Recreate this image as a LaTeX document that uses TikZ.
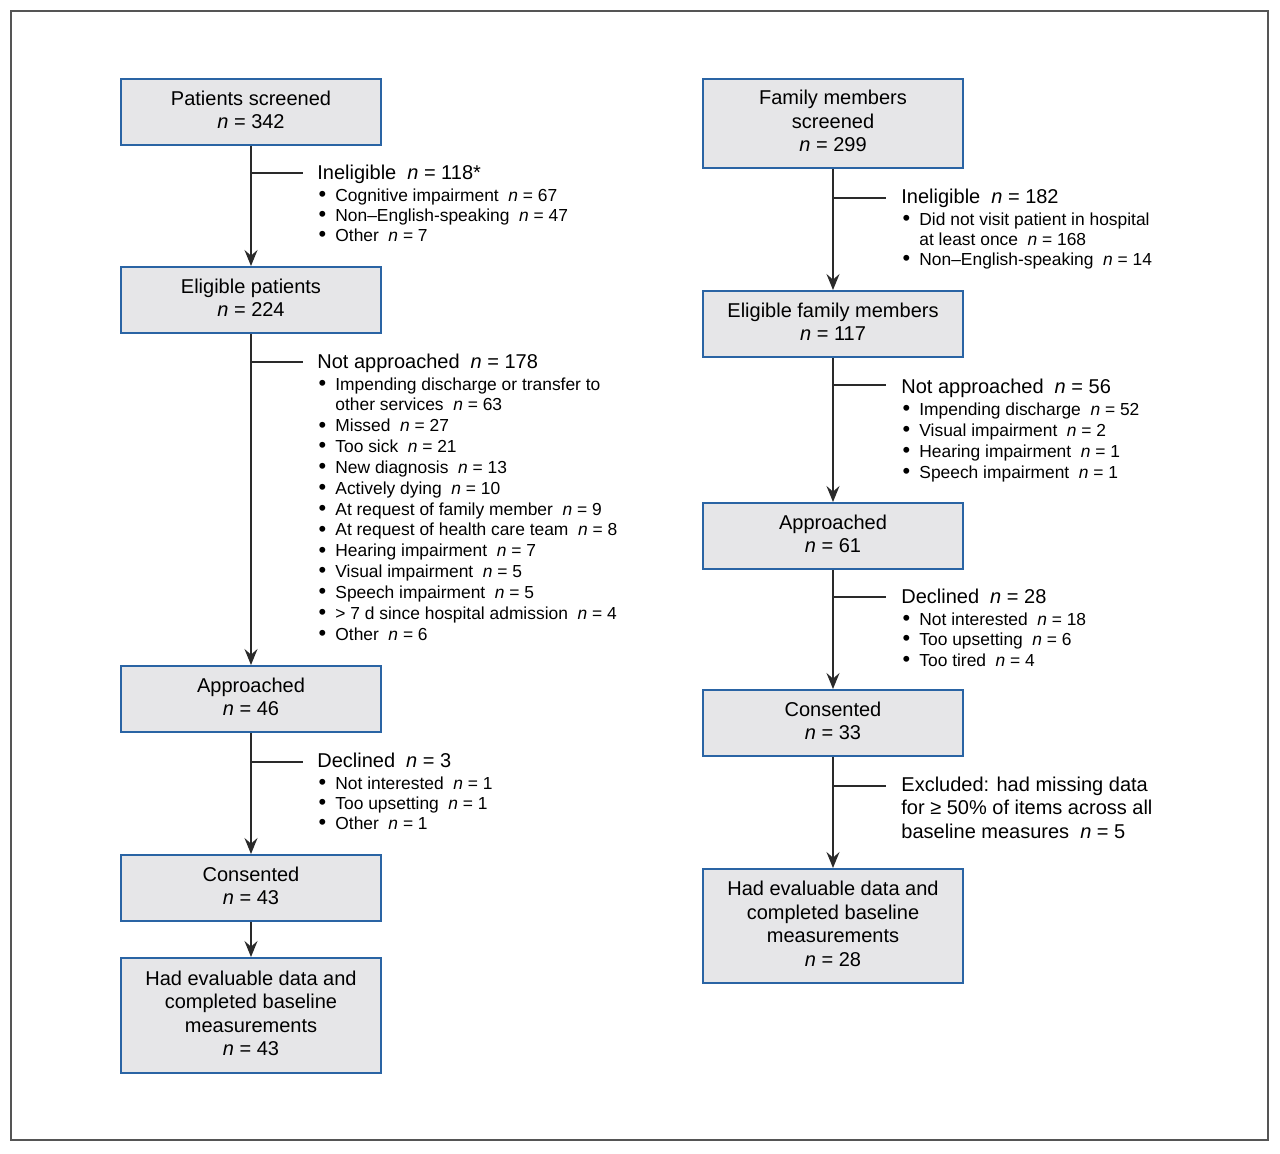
\documentclass[tikz,border=0pt]{standalone}
\usepackage{fontspec}
\setmainfont{Liberation Sans}
\usetikzlibrary{arrows.meta}
\definecolor{boxblue}{HTML}{2A64A4}
\definecolor{boxgray}{HTML}{E6E6E8}
\definecolor{linegray}{HTML}{2A2A2A}
\definecolor{framegray}{HTML}{555555}
\newcommand{\nv}[1]{\hspace{0.55em}\textit{n} = #1}
\newcommand{\bl}{\makebox[9pt][l]{\hspace{0.6pt}\raisebox{-0.2pt}{\scalebox{1.25}{\textbullet}}}}
\begin{document}
\begin{tikzpicture}[x=0.5pt,y=-0.5pt,
  flowbox/.style={draw=boxblue,line width=1pt,fill=boxgray,minimum width=130pt,minimum height=33pt,inner sep=0pt,align=center,text depth=2.5pt,font=\fontsize{10}{11.75}\selectfont},
  flowarrow/.style={draw=linegray,line width=0.75pt,-{Stealth[length=8pt,width=6.5pt,inset=2.8pt]}},
  branch/.style={draw=linegray,line width=0.6pt},
  hdr/.style={anchor=base west,inner sep=0pt,font=\fontsize{10}{11.75}\selectfont,align=left},
  lst/.style={anchor=base west,inner sep=0pt}]
\useasboundingbox (0,0) rectangle (1280,1153);
\draw[framegray,line width=0.8pt] (11,11) rectangle (1268,1140);

% left column boxes
\node[flowbox] (p1) at (251,112) {Patients screened\\\textit{n} = 342};
\node[flowbox] (p2) at (251,300) {Eligible patients\\\textit{n} = 224};
\node[flowbox] (p3) at (251,699) {Approached\\\textit{n} = 46};
\node[flowbox] (p4) at (251,888) {Consented\\\textit{n} = 43};
\node[flowbox,minimum height=57.5pt] (p5) at (251,1015.5) {Had evaluable data and\\completed baseline\\measurements\\\textit{n} = 43};

% right column boxes
\node[flowbox,minimum height=44.5pt] (f1) at (833,123.5) {Family members\\screened\\\textit{n} = 299};
\node[flowbox] (f2) at (833,324) {Eligible family members\\\textit{n} = 117};
\node[flowbox] (f3) at (833,536) {Approached\\\textit{n} = 61};
\node[flowbox] (f4) at (833,723) {Consented\\\textit{n} = 33};
\node[flowbox,minimum height=57pt] (f5) at (833,926) {Had evaluable data and\\completed baseline\\measurements\\\textit{n} = 28};

% arrows
\draw[flowarrow] (p1) -- (p2);
\draw[flowarrow] (p2) -- (p3);
\draw[flowarrow] (p3) -- (p4);
\draw[flowarrow] (p4) -- (p5);
\draw[flowarrow] (f1) -- (f2);
\draw[flowarrow] (f2) -- (f3);
\draw[flowarrow] (f3) -- (f4);
\draw[flowarrow] (f4) -- (f5);

% branch coordinates
\coordinate (lb1) at (251,173); \coordinate (le1) at (303,173);
\coordinate (lb2) at (251,362); \coordinate (le2) at (303,362);
\coordinate (lb3) at (251,762); \coordinate (le3) at (303,762);
\coordinate (rb1) at (833,198); \coordinate (re1) at (886,198);
\coordinate (rb2) at (833,385); \coordinate (re2) at (886,385);
\coordinate (rb3) at (833,597); \coordinate (re3) at (886,597);
\coordinate (rb4) at (833,786); \coordinate (re4) at (886,786);
\draw[branch] (lb1) -- (le1);
\draw[branch] (lb2) -- (le2);
\draw[branch] (lb3) -- (le3);
\draw[branch] (rb1) -- (re1);
\draw[branch] (rb2) -- (re2);
\draw[branch] (rb3) -- (re3);
\draw[branch] (rb4) -- (re4);

% left side texts
\node[hdr] (h1) at (317,179) {Ineligible\nv{118*}};
\node[lst,font=\fontsize{8.7}{10}\selectfont] (l1) at (317,201) {\begin{tabular}[t]{@{}l@{}l@{}}
\bl & Cognitive impairment\nv{67}\\
\bl & Non--English-speaking\nv{47}\\
\bl & Other\nv{7}
\end{tabular}};

\node[hdr] (h2) at (317,368) {Not approached\nv{178}};
\node[lst,font=\fontsize{8.7}{10.42}\selectfont] (l2) at (317,390) {\begin{tabular}[t]{@{}l@{}l@{}}
\bl & Impending discharge or transfer to\\
 & other services\nv{63}\\
\bl & Missed\nv{27}\\
\bl & Too sick\nv{21}\\
\bl & New diagnosis\nv{13}\\
\bl & Actively dying\nv{10}\\
\bl & At request of family member\nv{9}\\
\bl & At request of health care team\nv{8}\\
\bl & Hearing impairment\nv{7}\\
\bl & Visual impairment\nv{5}\\
\bl & Speech impairment\nv{5}\\
\bl & > 7 d since hospital admission\nv{4}\\
\bl & Other\nv{6}
\end{tabular}};

\node[hdr] (h3) at (317,767) {Declined\nv{3}};
\node[lst,font=\fontsize{8.7}{10}\selectfont] (l3) at (317,789) {\begin{tabular}[t]{@{}l@{}l@{}}
\bl & Not interested\nv{1}\\
\bl & Too upsetting\nv{1}\\
\bl & Other\nv{1}
\end{tabular}};

% right side texts
\node[hdr] (h4) at (901,203) {Ineligible\nv{182}};
\node[lst,font=\fontsize{8.7}{10}\selectfont] (l4) at (901,225) {\begin{tabular}[t]{@{}l@{}l@{}}
\bl & Did not visit patient in hospital\\
 & at least once\nv{168}\\
\bl & Non--English-speaking\nv{14}
\end{tabular}};

\node[hdr] (h5) at (901,393) {Not approached\nv{56}};
\node[lst,font=\fontsize{8.7}{10.5}\selectfont] (l5) at (901,415) {\begin{tabular}[t]{@{}l@{}l@{}}
\bl & Impending discharge\nv{52}\\
\bl & Visual impairment\nv{2}\\
\bl & Hearing impairment\nv{1}\\
\bl & Speech impairment\nv{1}
\end{tabular}};

\node[hdr] (h6) at (901,603) {Declined\nv{28}};
\node[lst,font=\fontsize{8.7}{10.25}\selectfont] (l6) at (901,625) {\begin{tabular}[t]{@{}l@{}l@{}}
\bl & Not interested\nv{18}\\
\bl & Too upsetting\nv{6}\\
\bl & Too tired\nv{4}
\end{tabular}};

\node[lst,font=\fontsize{10}{11.75}\selectfont] (h7) at (901,791) {\begin{tabular}[t]{@{}l@{}}
Excluded: had missing data\\
for \char"2265{} 50\% of items across all\\
baseline measures\nv{5}
\end{tabular}};
\end{tikzpicture}
\end{document}
